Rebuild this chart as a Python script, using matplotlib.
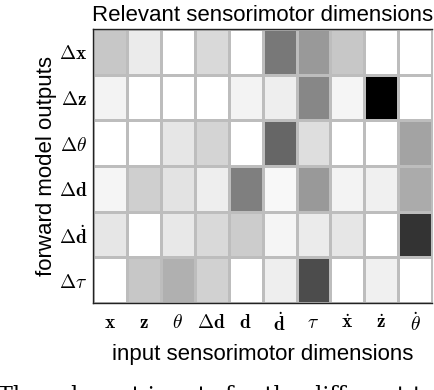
import numpy as np
import matplotlib.pyplot as plt

plt.rcParams['mathtext.fontset'] = 'cm'

# input dimensions (columns) and forward model outputs (rows)
inputs = [r'$\mathbf{x}$', r'$\mathbf{z}$', r'$\theta$', r'$\mathbf{\Delta d}$', r'$\mathbf{d}$',
          r'$\dot{\mathbf{d}}$', r'$\tau$', r'$\dot{\mathbf{x}}$', r'$\dot{\mathbf{z}}$', r'$\dot{\theta}$']
outputs = [r'$\mathbf{\Delta x}$', r'$\mathbf{\Delta z}$', r'$\mathbf{\Delta}\theta$',
           r'$\mathbf{\Delta d}$', r'$\mathbf{\Delta}\dot{\mathbf{d}}$', r'$\mathbf{\Delta}\tau$']

# relevance (0 = white, 1 = black)
rel_dx = [0.22, 0.08, 0.00, 0.15, 0.00, 0.53, 0.40, 0.22, 0.00, 0.00]
rel_dz = [0.05, 0.00, 0.00, 0.00, 0.05, 0.07, 0.47, 0.04, 1.00, 0.00]
rel_dtheta = [0.00, 0.00, 0.10, 0.17, 0.00, 0.60, 0.13, 0.00, 0.00, 0.36]
rel_dd = [0.04, 0.19, 0.11, 0.07, 0.50, 0.03, 0.40, 0.05, 0.06, 0.33]
rel_dddot = [0.10, 0.00, 0.09, 0.15, 0.20, 0.04, 0.08, 0.10, 0.00, 0.80]
rel_dtau = [0.00, 0.22, 0.31, 0.18, 0.00, 0.07, 0.70, 0.00, 0.06, 0.00]

data = np.array([rel_dx, rel_dz, rel_dtheta, rel_dd, rel_dddot, rel_dtau])

fig = plt.figure(figsize=(4.34, 3.9), dpi=100)
ax = fig.add_axes([0.214, 0.223, 0.782, 0.703])

ax.pcolormesh(data, cmap='gray_r', vmin=0, vmax=1, edgecolors='#bdbdbd', linewidth=0.8)
ax.set_xlim(0, len(inputs))
ax.set_ylim(len(outputs), 0)

ax.set_xticks(np.arange(len(inputs)) + 0.5)
ax.set_xticklabels(inputs, fontsize=14)
ax.set_yticks(np.arange(len(outputs)) + 0.5)
ax.set_yticklabels(outputs, fontsize=14)
ax.tick_params(length=0)
ax.tick_params(axis='x', pad=7)
ax.tick_params(axis='y', pad=4)

for s in ['left', 'top', 'bottom']:
    ax.spines[s].set_color('#222222')
    ax.spines[s].set_linewidth(1.0)
ax.spines['right'].set_color('#bdbdbd')

ax.set_title('Relevant sensorimotor dimensions', fontsize=16, family='Liberation Sans', pad=6)
ax.set_xlabel('input sensorimotor dimensions', fontsize=16, family='Liberation Sans', labelpad=6)
ax.set_ylabel('forward model outputs', fontsize=16, family='Liberation Sans', labelpad=1)

# caption cut off at the bottom of the picture
fig.text(-0.005, 0.014, 'The relevant inputs for the different t', fontsize=16,
         family='DejaVu Serif', va='top', ha='left')

fig.savefig('out.png', dpi=100)
